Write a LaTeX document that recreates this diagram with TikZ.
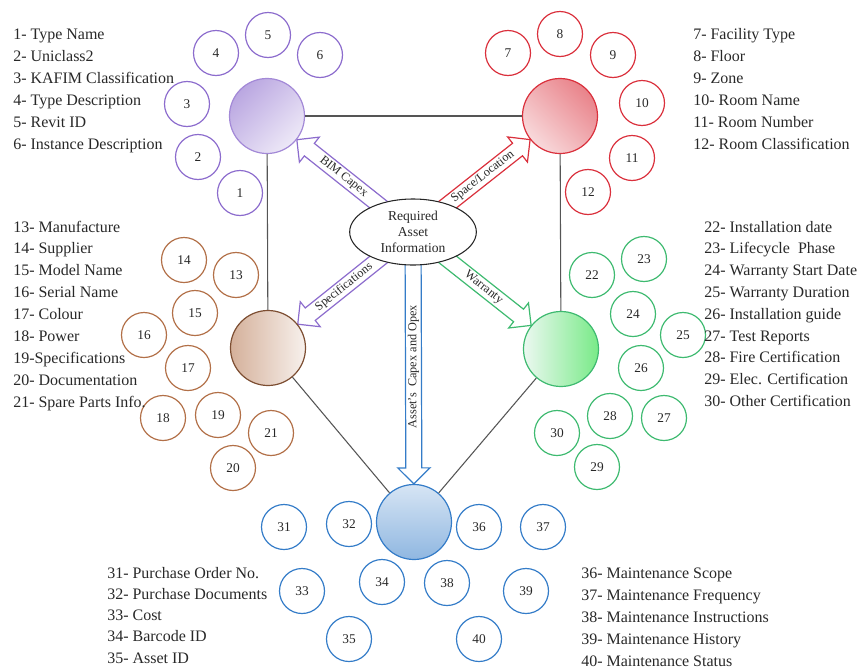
\documentclass[tikz,border=0pt]{standalone}
\usepackage{fontspec}
\setmainfont{Liberation Serif}
\usetikzlibrary{calc,shapes.geometric}
\pgfdeclarelayer{bg}
\pgfsetlayers{bg,main}

\definecolor{purpC}{RGB}{140,108,205}
\definecolor{redC}{RGB}{218,48,60}
\definecolor{brnC}{RGB}{178,112,72}
\definecolor{grnC}{RGB}{62,186,112}
\definecolor{bluC}{RGB}{52,124,200}
\definecolor{linkC}{RGB}{85,85,85}
\definecolor{txtC}{RGB}{40,40,40}

% block arrow from the central ellipse (req) to a hub circle
% #1 colour, #2 target node, #3 label, #4 label node name, #5 label placement
\newcommand{\blkarrow}[5]{%
  \path (req) -- (#2) coordinate[pos=0] (baS) coordinate[pos=1] (baE);
  \coordinate (baA) at ($(baS)!-10pt!(baE)$);
  \coordinate (baC) at ($(baE)!12pt!(baS)$);
  \begin{pgfonlayer}{bg}
    \draw[blockarrow, draw=#1]
      ($(baA)!6pt!90:(baE)$) -- ($(baC)!6pt!90:(baE)$) -- ($(baC)!12pt!90:(baE)$)
      -- (baE) -- ($(baC)!12pt!-90:(baE)$) -- ($(baC)!6pt!-90:(baE)$)
      -- ($(baA)!6pt!-90:(baE)$) -- cycle;
  \end{pgfonlayer}
  \path (baS) -- (baC) node[midway, arrowlabel, #5] (#4) {#3};
}

\begin{document}
\begin{tikzpicture}[x=0.75pt, y=-0.75pt,
  small/.style={circle, minimum size=33.75pt, inner sep=0pt, line width=0.9pt,
    font=\fontsize{10}{12}\selectfont, text=txtC},
  hub/.style={circle, minimum size=56.25pt, inner sep=0pt, line width=0.9pt},
  link/.style={draw=linkC, line width=0.8pt},
  blockarrow/.style={line width=0.9pt, fill=white, line join=miter},
  arrowlabel/.style={inner sep=0pt, font=\fontsize{9.2}{10}\selectfont, text=txtC},
  listtext/.style={anchor=base west, inner sep=0pt, font=\fontsize{12}{14}\selectfont, text=txtC}]

\useasboundingbox (0,0) rectangle (858,668);

% hub circles
\node[hub, draw=purpC!80, top color=purpC!60, bottom color=purpC!15, shading angle=45] (pur) at (267,116) {};
\node[hub, draw=redC, top color=redC!60, bottom color=redC!18, shading angle=-45] (red) at (560,116) {};
\node[hub, draw=brnC!70!black, left color=brnC!55, right color=brnC!10] (brn) at (268,348) {};
\node[hub, draw=grnC, left color=grnC!10, right color=grnC!50!green!60] (grn) at (561,349) {};
\node[hub, draw=bluC, top color=bluC!20, bottom color=bluC!55] (blu) at (414,522) {};

% central ellipse
\node[ellipse, draw=black!85, fill=white, line width=0.8pt, minimum width=95pt, minimum height=49.5pt,
  inner sep=0pt, align=center, font=\fontsize{10.2}{12}\selectfont, text=txtC] (req) at (413,232)
  {Required\\Asset\\Information};

% frame links between hubs
\draw[link] (pur) -- (red);
\draw[link] (pur) -- (brn);
\draw[link] (red) -- (grn);
\draw[link] (brn) -- (blu);
\draw[link] (grn) -- (blu);

% block arrows
\blkarrow{purpC}{pur}{BIM Capex}{lbim}{sloped}
\blkarrow{redC}{red}{Space/Location}{lspace}{sloped}
\blkarrow{purpC}{brn}{Specifications}{lspec}{sloped}
\blkarrow{grnC}{grn}{Warranty}{lwar}{sloped}
\blkarrow{bluC}{blu}{Asset's\ \ Capex and Opex}{lcap}{rotate=90}

% numbered item circles
\foreach \n/\x/\y in {1/240/193, 2/198/157, 3/187/104, 4/216/53, 5/268/35, 6/320/55}
  \node[small, draw=purpC] (c\n) at (\x,\y) {\n};
\foreach \n/\x/\y in {7/508/53, 8/560/34, 9/613/55, 10/642/103, 11/632/158, 12/588/192}
  \node[small, draw=redC] (c\n) at (\x,\y) {\n};
\foreach \n/\x/\y in {13/236/275, 14/184/260, 15/195/313, 16/144/335, 17/188/368,
                      18/163/418, 19/218/415, 20/233/468, 21/271/433}
  \node[small, draw=brnC] (c\n) at (\x,\y) {\n};
\foreach \n/\x/\y in {22/592/275, 23/644/259, 24/633/314, 25/683/335, 26/641/368,
                      27/664/418, 28/610/416, 29/597/467, 30/557/433}
  \node[small, draw=grnC] (c\n) at (\x,\y) {\n};
\foreach \n/\x/\y in {31/284/527, 32/349/524, 33/302/591, 34/382/582, 35/349/639,
                      36/479/527, 37/543/527, 38/447/583, 39/526/591, 40/479/639}
  \node[small, draw=bluC] (c\n) at (\x,\y) {\n};

% legends
\foreach \t [count=\i] in {{1- Type Name}, {2- Uniclass2}, {3- KAFIM Classification},
    {4- Type Description}, {5- Revit ID}, {6- Instance Description}}
  \node[listtext] (la\i) at (13, {39+22*(\i-1)}) {\t};
\foreach \t [count=\i] in {{7- Facility Type}, {8- Floor}, {9- Zone}, {10- Room Name},
    {11- Room Number}, {12- Room Classification}}
  \node[listtext] (lb\i) at (693, {39+22*(\i-1)}) {\t};
\foreach \t [count=\i] in {{13- Manufacture}, {14- Supplier}, {15- Model Name}, {16- Serial Name},
    {17- Colour}, {18- Power}, {19-Specifications}, {20- Documentation}, {21- Spare Parts Info.}}
  \node[listtext] (lc\i) at (13, {232+21.9*(\i-1)}) {\t};
\foreach \t [count=\i] in {{22- Installation date}, {23- Lifecycle\ \ Phase}, {24- Warranty Start Date},
    {25- Warranty Duration}, {26- Installation guide}, {27- Test Reports}, {28- Fire Certification},
    {29- Elec. Certification}, {30- Other Certification}}
  \node[listtext] (ld\i) at (704, {232+21.8*(\i-1)}) {\t};
\foreach \t [count=\i] in {{31- Purchase Order No.}, {32- Purchase Documents}, {33- Cost},
    {34- Barcode ID}, {35- Asset ID}}
  \node[listtext] (le\i) at (107, {578+21.3*(\i-1)}) {\t};
\foreach \t [count=\i] in {{36- Maintenance Scope}, {37- Maintenance Frequency},
    {38- Maintenance Instructions}, {39- Maintenance History}, {40- Maintenance Status}}
  \node[listtext] (lf\i) at (581, {578+22*(\i-1)}) {\t};

\end{tikzpicture}
\end{document}
